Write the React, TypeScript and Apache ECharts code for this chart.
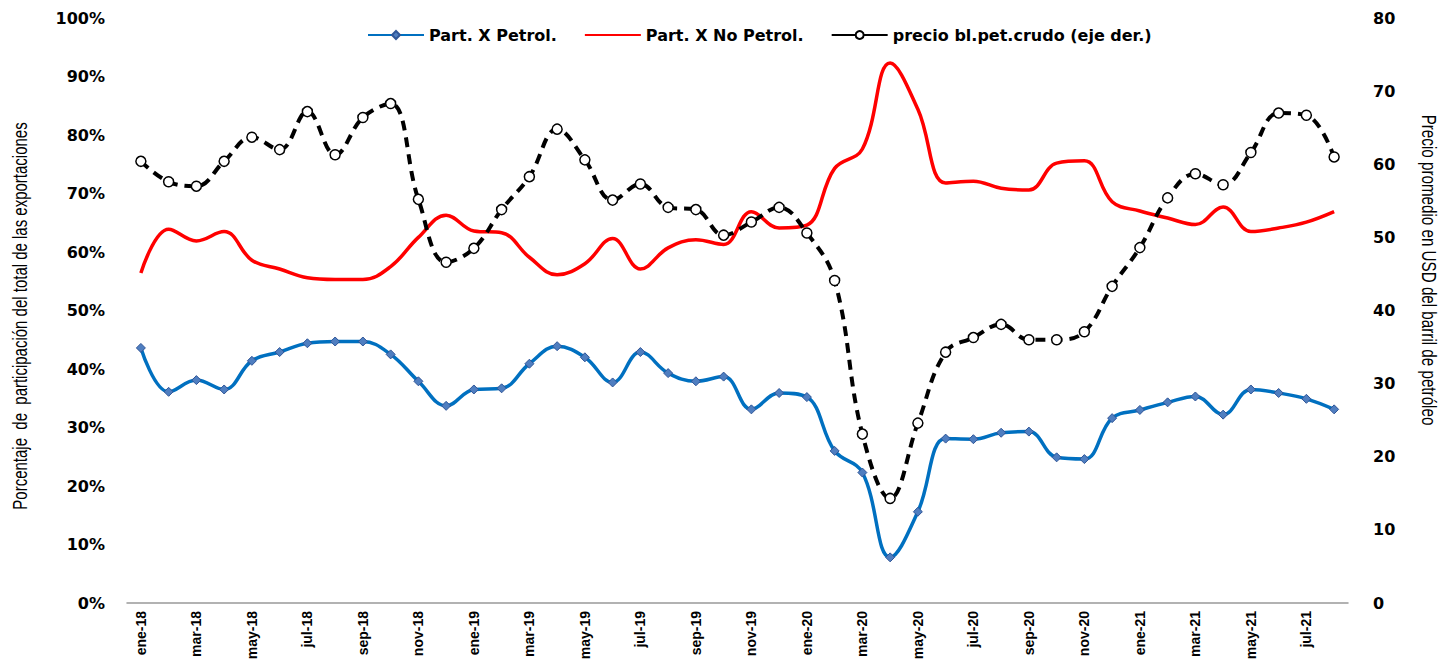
import React, { useEffect, useRef } from "react";
import * as echarts from "echarts";

const categories = [
  "ene-18","feb-18","mar-18","abr-18","may-18","jun-18","jul-18","ago-18","sep-18","oct-18","nov-18","dic-18",
  "ene-19","feb-19","mar-19","abr-19","may-19","jun-19","jul-19","ago-19","sep-19","oct-19","nov-19","dic-19",
  "ene-20","feb-20","mar-20","abr-20","may-20","jun-20","jul-20","ago-20","sep-20","oct-20","nov-20","dic-20",
  "ene-21","feb-21","mar-21","abr-21","may-21","jun-21","jul-21","ago-21",
];

const partPetrol = [
  43.6, 36.1, 38.1, 36.5, 41.4, 42.9, 44.4, 44.7, 44.7, 42.5, 37.9, 33.7,
  36.5, 36.7, 40.9, 43.9, 42.0, 37.7, 42.9, 39.3, 37.9, 38.7, 33.1, 35.9,
  35.2, 26.0, 22.3, 7.8, 15.6, 28.1, 28.0, 29.1, 29.3, 24.9, 24.6, 31.6,
  33.0, 34.3, 35.3, 32.2, 36.5, 35.9, 34.9, 33.1,
];

const partNoPetrol = [
  56.4, 63.9, 61.9, 63.5, 58.6, 57.1, 55.6, 55.3, 55.3, 57.5, 62.5, 66.3,
  63.6, 63.3, 59.1, 56.1, 58.0, 62.3, 57.1, 60.7, 62.1, 61.3, 66.9, 64.1,
  64.6, 74.3, 77.6, 92.3, 84.4, 71.8, 72.1, 70.9, 70.6, 75.2, 75.6, 68.6,
  67.0, 65.8, 64.7, 67.7, 63.5, 64.1, 65.1, 66.9,
];

const precioCrudo = [
  60.4, 57.6, 57.0, 60.4, 63.7, 62.0, 67.2, 61.3, 66.4, 68.3, 55.2, 46.6,
  48.5, 53.8, 58.3, 64.8, 60.6, 55.1, 57.3, 54.1, 53.8, 50.3, 52.1, 54.1,
  50.6, 44.1, 23.1, 14.3, 24.6, 34.3, 36.3, 38.1, 36.0, 36.0, 37.1, 43.3,
  48.6, 55.4, 58.7, 57.2, 61.6, 67.0, 66.7, 61.0,
];

const seriesNames = [
  "Part. X Petrol.",
  "Part. X No Petrol.",
  "precio bl.pet.crudo (eje der.)",
];

const leftTitle = "Porcentaje  de  participación del total de las exportaciones";
const rightTitle = "Precio promedio en USD del barril de petróleo";

const WIDE_BOLD = "'DejaVu Sans', 'Liberation Sans', Arial, sans-serif";
const ARIAL = "'Liberation Sans', Arial, sans-serif";

export default function App() {
  const ref = useRef<HTMLDivElement>(null);

  useEffect(() => {
    document.body.style.margin = "0";
    if (!ref.current) return;
    const chart = echarts.init(ref.current, undefined, { renderer: "svg" });
    chart.setOption({
      animation: false,
      backgroundColor: "#ffffff",
      grid: {
        left: 127,
        right: 95,
        top: 18,
        bottom: 59,
        containLabel: false,
        outerBoundsMode: "none",
      },
      legend: {
        top: 22,
        left: 362,
        itemWidth: 56,
        itemHeight: 10,
        itemGap: 27,
        data: [
          { name: seriesNames[0] },
          { name: seriesNames[1], itemStyle: { opacity: 0 } },
          { name: seriesNames[2], lineStyle: { type: "solid" } },
        ],
        textStyle: {
          fontFamily: WIDE_BOLD,
          fontWeight: "bold",
          fontSize: 16,
          color: "#000",
        },
      },
      xAxis: {
        type: "category",
        data: categories,
        boundaryGap: true,
        axisLine: { show: true, lineStyle: { color: "#999", width: 1.5 } },
        axisTick: { show: false },
        axisLabel: {
          interval: 1,
          rotate: 90,
          margin: 8,
          fontFamily: ARIAL,
          fontWeight: "bold",
          fontSize: 14,
          color: "#000",
        },
        splitLine: { show: false },
      },
      yAxis: [
        {
          type: "value",
          min: 0,
          max: 100,
          interval: 10,
          position: "left",
          axisLine: { show: false },
          axisTick: { show: false },
          splitLine: { show: false },
          axisLabel: {
            formatter: "{value}%",
            margin: 22,
            fontFamily: WIDE_BOLD,
            fontWeight: "bold",
            fontSize: 16,
            color: "#000",
          },
        },
        {
          type: "value",
          min: 0,
          max: 80,
          interval: 10,
          position: "right",
          axisLine: { show: false },
          axisTick: { show: false },
          splitLine: { show: false },
          axisLabel: {
            margin: 25,
            fontFamily: WIDE_BOLD,
            fontWeight: "bold",
            fontSize: 16,
            color: "#000",
          },
        },
      ],
      graphic: [
        {
          type: "text",
          x: 20,
          y: 316,
          rotation: Math.PI / 2,
          scaleX: 0.75,
          style: {
            text: leftTitle,
            font: `20px ${ARIAL}`,
            fill: "#000",
            align: "center",
            verticalAlign: "middle",
          },
        },
        {
          type: "text",
          x: 1429,
          y: 270,
          rotation: -Math.PI / 2,
          scaleX: 0.76,
          style: {
            text: rightTitle,
            font: `20px ${ARIAL}`,
            fill: "#000",
            align: "center",
            verticalAlign: "middle",
          },
        },
      ],
      series: [
        {
          name: seriesNames[0],
          type: "line",
          yAxisIndex: 0,
          data: partPetrol,
          smooth: 0.4,
          symbol: "diamond",
          symbolSize: 9,
          lineStyle: { color: "#0070C0", width: 3.5 },
          itemStyle: { color: "#4F7EC0", borderColor: "#2F5597", borderWidth: 1 },
          z: 3,
        },
        {
          name: seriesNames[1],
          type: "line",
          yAxisIndex: 0,
          data: partNoPetrol,
          smooth: 0.4,
          symbol: "none",
          lineStyle: { color: "#FF0000", width: 3.5 },
          itemStyle: { color: "#FF0000" },
          z: 3,
        },
        {
          name: seriesNames[2],
          type: "line",
          yAxisIndex: 1,
          data: precioCrudo,
          smooth: 0.4,
          symbol: "circle",
          symbolSize: 10,
          showAllSymbol: true,
          lineStyle: { color: "#000", width: 4, type: [10, 7] },
          itemStyle: { color: "#fff", borderColor: "#000", borderWidth: 1.5 },
          z: 4,
        },
      ],
    });
    return () => chart.dispose();
  }, []);

  return <div ref={ref} style={{ width: 1443, height: 662 }} />;
}
